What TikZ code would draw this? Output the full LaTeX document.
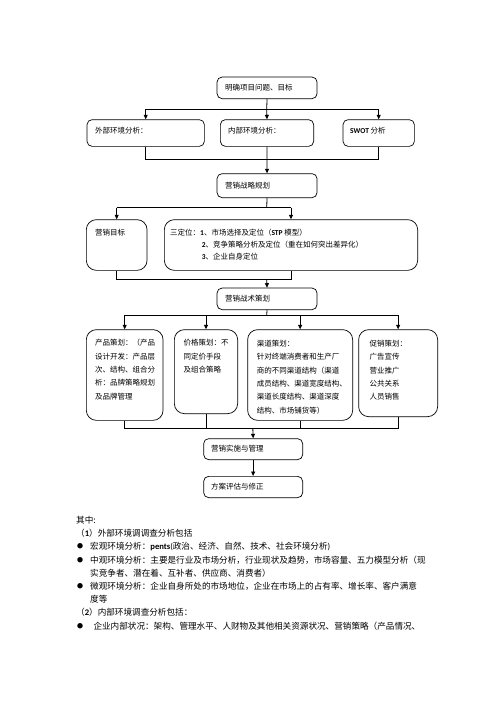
\documentclass[tikz,border=0pt]{standalone}
\usepackage{fontspec}
\setmainfont{Noto Sans CJK SC}
\newfontfamily\lat{Carlito}
\usetikzlibrary{arrows.meta}
\tikzset{
  box/.style={draw, line width=0.7pt, rounded corners=5pt, inner sep=0pt, anchor=north west},
  tallbox/.style={box, rounded corners=10pt},
  ftxt/.style={inner sep=0pt, anchor=west, font=\fontsize{7.5}{13.3}\selectfont},
  mtxt/.style={inner sep=0pt, anchor=north west, align=left, font=\fontsize{7.5}{13.3}\selectfont},
  btxt/.style={inner sep=0pt, anchor=west, font=\fontsize{8.6}{13.3}\selectfont},
  bul/.style={inner sep=0pt, font=\fontsize{6}{6}\selectfont},
  ln/.style={line width=0.8pt},
  arr/.style={line width=0.8pt, -{Triangle[length=4.5pt,width=4pt]}}
}
\begin{document}
\begin{tikzpicture}[x=1pt,y=-1pt]
\useasboundingbox[fill=white] (0,0) rectangle (496,702);

% boxes
\node[box, minimum width=100pt, minimum height=21.6pt] (goal) at (216.7,76.7) {};
\node[box, minimum width=117.3pt, minimum height=26.7pt] (ext) at (86.7,119.3) {};
\node[box, minimum width=93.3pt, minimum height=26.7pt] (int) at (220,119.3) {};
\node[box, minimum width=71.3pt, minimum height=26.7pt] (swot) at (342.7,119.3) {};
\node[box, minimum width=100pt, minimum height=24pt] (strat) at (216.7,173.3) {};
\node[tallbox, minimum width=60.7pt, minimum height=50.7pt] (obj) at (86,219.3) {};
\node[tallbox, minimum width=253.3pt, minimum height=50.7pt] (pos) at (164,219.3) {};
\node[box, minimum width=100pt, minimum height=21.6pt] (tact) at (216.7,287.7) {};
\node[tallbox, minimum width=76.7pt, minimum height=90.7pt] (prod) at (86,329.3) {};
\node[tallbox, minimum width=63.3pt, minimum height=84pt] (price) at (174,329.3) {};
\node[tallbox, minimum width=105pt, minimum height=90.7pt] (chan) at (247.3,329.3) {};
\node[tallbox, minimum width=79pt, minimum height=87pt] (promo) at (358.3,329.3) {};
\node[box, minimum width=99pt, minimum height=21pt] (impl) at (203.3,438.3) {};
\node[box, minimum width=99pt, minimum height=21.3pt] (eval) at (203.3,476) {};

% box texts
\node[ftxt] (tgoal) at (225,87.5) {明确项目问题、目标};
\node[ftxt] (text) at (95,130.5) {外部环境分析：};
\node[ftxt] (tint) at (228,130.5) {内部环境分析：};
\node[ftxt] (tswot) at (350,130.5) {{\lat\bfseries SWOT} 分析};
\node[ftxt] (tstrat) at (225,185.3) {营销战略规划};
\node[ftxt] (tobj) at (95,232.3) {营销目标};
\node[ftxt] (tpos1) at (170,232.3) {三定位：{\lat\bfseries 1}、市场选择及定位（{\lat\bfseries STP} 模型）};
\node[ftxt] (tpos2) at (201.7,244.5) {{\lat\bfseries 2}、竞争策略分析及定位（重在如何突出差异化）};
\node[ftxt] (tpos3) at (201.7,256.7) {{\lat\bfseries 3}、企业自身定位};
\node[ftxt] (ttact) at (225,298.5) {营销战术策划};
\node[mtxt] (tprod) at (95,339.3) {产品策划：（产品\\设计开发：产品层\\次、结构、组合分\\析：品牌策略规划\\及品牌管理};
\node[mtxt] (tprice) at (183.3,339.3) {价格策划：不\\同定价手段\\及组合策略};
\node[mtxt] (tchan) at (256.7,340) {渠道策划：\\针对终端消费者和生产厂\\商的不同渠道结构（渠道\\成员结构、渠道宽度结构、\\渠道长度结构、渠道深度\\结构、市场铺货等）};
\node[mtxt] (tpromo) at (369.3,340) {促销策划：\\广告宣传\\营业推广\\公共关系\\人员销售};
\node[ftxt] (timpl) at (211,449) {营销实施与管理};
\node[ftxt] (teval) at (211,486.7) {方案评估与修正};

% junction coordinates
\coordinate (j1) at (266.7,109);
\coordinate (j2) at (266.7,159.3);
\coordinate (j3) at (266.7,207.7);
\coordinate (j4) at (266.7,279);
\coordinate (j5) at (266.7,315);
\coordinate (j6) at (252.8,428);

% connectors
\draw[ln] (goal.south) -- (j1);
\draw[arr] (j1) -- (int.north);
\draw[ln] (ext.north |- j1) -- (swot.north |- j1);
\draw[arr] (ext.north |- j1) -- (ext.north);
\draw[arr] (swot.north |- j1) -- (swot.north);
\draw[ln] (ext.south) -- (ext.south |- j2) -- (swot.south |- j2) -- (swot.south);
\draw[arr] (int.south) -- (strat.north);
\draw[ln] (strat.south) -- (j3);
\draw[ln] (obj.north |- j3) -- (pos.north |- j3);
\draw[arr] (obj.north |- j3) -- (obj.north);
\draw[arr] (pos.north |- j3) -- (pos.north);
\draw[ln] (obj.south) -- (obj.south |- j4) -- (pos.south |- j4) -- (pos.south);
\draw[arr] (j4) -- (tact.north);
\draw[ln] (tact.south) -- (j5);
\draw[ln] (prod.north |- j5) -- (promo.north |- j5);
\draw[arr] (prod.north |- j5) -- (prod.north);
\draw[arr] (price.north |- j5) -- (price.north);
\draw[arr] (chan.north |- j5) -- (chan.north);
\draw[arr] (promo.north |- j5) -- (promo.north);
\draw[ln] (prod.south) -- (prod.south |- j6) -- (promo.south |- j6) -- (promo.south);
\draw[ln] (price.south) -- (price.south |- j6);
\draw[ln] (chan.south) -- (chan.south |- j6);
\draw[arr] (j6) -- (impl.north);
\draw[arr] (impl.south) -- (eval.north);

% body text
\node[btxt] (l0) at (76,520) {其中:};
\node[btxt] (l1) at (76,533.5) {（{\lat\bfseries 1}）外部环境调调查分析包括};
\node[bul] (b1) at (80,546.5) {●};
\node[btxt] (l2) at (90,546.5) {宏观环境分析：{\lat\bfseries pents}{\lat (}政治、经济、自然、技术、社会环境分析{\lat )}};
\node[bul] (b2) at (80,559.8) {●};
\node[btxt] (l3) at (90,559.8) {中观环境分析：主要是行业及市场分析，行业现状及趋势，市场容量、五力模型分析（现};
\node[btxt] (l4) at (90,573) {实竞争者、潜在着、互补者、供应商、消费者）};
\node[bul] (b3) at (80,586.3) {●};
\node[btxt] (l5) at (90,586.3) {微观环境分析：企业自身所处的市场地位，企业在市场上的占有率、增长率、客户满意};
\node[btxt] (l6) at (90,599.5) {度等};
\node[btxt] (l7) at (76,612.5) {（{\lat\bfseries 2}）内部环境调查分析包括：};
\node[bul] (b4) at (80,625.8) {●};
\node[btxt] (l8) at (93.3,625.8) {企业内部状况：架构、管理水平、人财物及其他相关资源状况、营销策略（产品情况、};
\end{tikzpicture}
\end{document}
